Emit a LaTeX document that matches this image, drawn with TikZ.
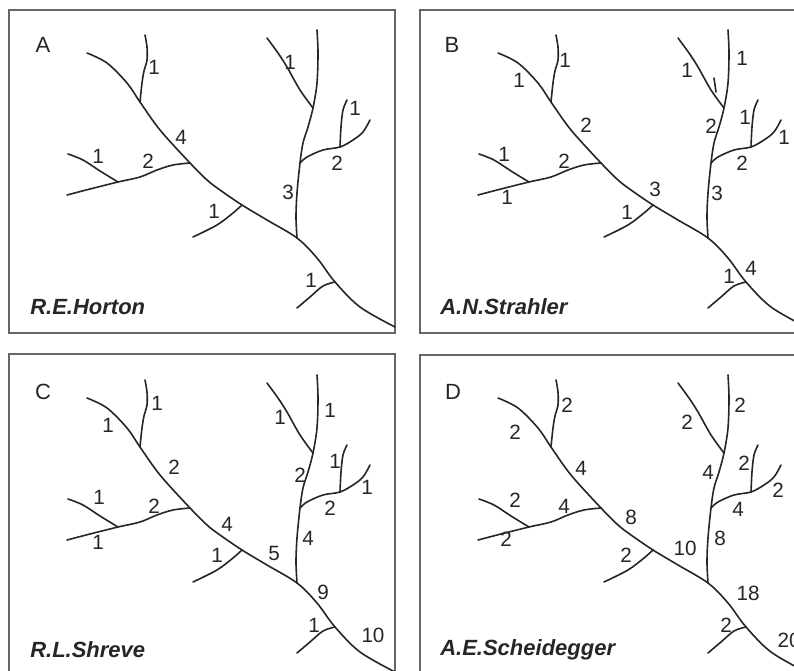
\documentclass[tikz,border=0pt]{standalone}
\usepackage{fontspec}
\setmainfont{Liberation Sans}
\newcommand\drawstreams{%
  \draw[stream] plot[smooth, tension=0.55] coordinates {(87,53) (107,63) (127,83) (140,102) (160,130) (190,163) (207,180) (220,190) (242,205) (267,220) (297,238) (317,258) (335,282) (360,307) (395,327)};
  \draw[stream] plot[smooth, tension=0.55] coordinates {(140,102) (142,83) (144,71) (147,60) (147,47) (145,35)};
  \draw[stream] plot[smooth, tension=0.55] coordinates {(190,163) (173,165) (157,170) (140,177) (118,182) (90,189) (67,195)};
  \draw[stream] plot[smooth, tension=0.55] coordinates {(118,182) (100,171) (83,160) (68,154)};
  \draw[stream] plot[smooth, tension=0.55] coordinates {(242,205) (233,213) (217,225) (193,237)};
  \draw[stream] plot[smooth, tension=0.55] coordinates {(297,238) (296,217) (297,193) (300,163) (303,143) (308,127) (313,108) (317,83) (318,53) (317,30)};
  \draw[stream] plot[smooth, tension=0.55] coordinates {(313,108) (300,90) (287,67) (278,53) (267,38)};
  \draw[stream] plot[smooth, tension=0.55] coordinates {(300,163) (307,157) (323,150) (340,147) (353,140) (363,132) (370,120)};
  \draw[stream] plot[smooth, tension=0.55] coordinates {(340,147) (341,127) (343,110) (347,100)};
  \draw[stream] plot[smooth, tension=0.55] coordinates {(335,282) (323,286) (310,297) (297,308)};
}
\begin{document}
\begin{tikzpicture}[x=0.75pt,y=-0.75pt,
  stream/.style={line width=1.2pt, draw=black!85, line cap=round, line join=round},
  panelframe/.style={draw=black!60, line width=1.4pt},
  num/.style={font=\fontsize{15.5}{16}\selectfont, text=black!85, inner sep=0pt},
  letter/.style={font=\fontsize{16.5}{17}\selectfont, text=black!85, inner sep=0pt},
  author/.style={font=\fontsize{16.5}{17}\selectfont\bfseries\itshape, anchor=west, inner sep=0pt, text=black!85}]
\useasboundingbox (0,0) rectangle (794,671);
\clip (0,0) rectangle (794,671);
\fill[white] (0,0) rectangle (794,671);

% Panel A
\begin{scope}
  \draw[panelframe] (9,10) rectangle (395,333);
  \drawstreams
  \node[letter] (aL) at (43,45) {A};
  \node[num] (a1) at (154,67) {1};
  \node[num] (a2) at (181,137) {4};
  \node[num] (a3) at (148,161) {2};
  \node[num] (a4) at (98,156) {1};
  \node[num] (a5) at (214,211) {1};
  \node[num] (a6) at (290,62) {1};
  \node[num] (a7) at (288,192) {3};
  \node[num] (a8) at (337,163) {2};
  \node[num] (a9) at (355,108) {1};
  \node[num] (a10) at (311,280) {1};
  \node[author] (aT) at (30,307) {R.E.Horton};
\end{scope}

% Panel B
\begin{scope}[shift={(411,0)}]
  \draw[panelframe] (9,10) rectangle (395,333);
  \drawstreams
  \draw[stream] (303,78) -- (305,92);
  \node[letter] (bL) at (41,45) {B};
  \node[num] (b1) at (108,80) {1};
  \node[num] (b2) at (154,60) {1};
  \node[num] (b3) at (175,125) {2};
  \node[num] (b4) at (93,154) {1};
  \node[num] (b5) at (153,161) {2};
  \node[num] (b6) at (96,197) {1};
  \node[num] (b7) at (244,189) {3};
  \node[num] (b8) at (216,212) {1};
  \node[num] (b9) at (276,70) {1};
  \node[num] (b10) at (331,58) {1};
  \node[num] (b11) at (300,126) {2};
  \node[num] (b12) at (334,117) {1};
  \node[num] (b13) at (373,137) {1};
  \node[num] (b14) at (331,163) {2};
  \node[num] (b15) at (306,193) {3};
  \node[num] (b16) at (340,268) {4};
  \node[num] (b17) at (318,276) {1};
  \node[author] (bT) at (29,307) {A.N.Strahler};
\end{scope}

% Panel C
\begin{scope}[shift={(0,345)}]
  \draw[panelframe] (9,9) rectangle (395,333);
  \drawstreams
  \node[letter] (cL) at (43,47) {C};
  \node[num] (c1) at (157,58) {1};
  \node[num] (c2) at (108,80) {1};
  \node[num] (c3) at (174,122) {2};
  \node[num] (c4) at (99,152) {1};
  \node[num] (c5) at (154,161) {2};
  \node[num] (c6) at (98,197) {1};
  \node[num] (c7) at (227,179) {4};
  \node[num] (c8) at (217,210) {1};
  \node[num] (c9) at (274,208) {5};
  \node[num] (c10) at (280,72) {1};
  \node[num] (c11) at (330,65) {1};
  \node[num] (c12) at (300,130) {2};
  \node[num] (c13) at (335,116) {1};
  \node[num] (c14) at (367,142) {1};
  \node[num] (c15) at (330,163) {2};
  \node[num] (c16) at (308,193) {4};
  \node[num] (c17) at (323,247) {9};
  \node[num] (c18) at (314,280) {1};
  \node[num] (c19) at (373,290) {10};
  \node[author] (cT) at (30,305) {R.L.Shreve};
\end{scope}

% Panel D
\begin{scope}[shift={(411,345)}]
  \draw[panelframe] (9,10) rectangle (395,333);
  \drawstreams
  \node[letter] (dL) at (42,47) {D};
  \node[num] (d1) at (156,60) {2};
  \node[num] (d2) at (104,87) {2};
  \node[num] (d3) at (170,123) {4};
  \node[num] (d4) at (104,155) {2};
  \node[num] (d5) at (153,161) {4};
  \node[num] (d6) at (95,194) {2};
  \node[num] (d7) at (220,172) {8};
  \node[num] (d8) at (215,210) {2};
  \node[num] (d9) at (274,203) {10};
  \node[num] (d10) at (276,77) {2};
  \node[num] (d11) at (329,60) {2};
  \node[num] (d12) at (297,127) {4};
  \node[num] (d13) at (333,118) {2};
  \node[num] (d14) at (367,145) {2};
  \node[num] (d15) at (327,164) {4};
  \node[num] (d16) at (309,193) {8};
  \node[num] (d17) at (337,248) {18};
  \node[num] (d18) at (315,280) {2};
  \node[num] (d19) at (378,295) {20};
  \node[author] (dT) at (29,305) {A.E.Scheidegger};
\end{scope}
\end{tikzpicture}
\end{document}
